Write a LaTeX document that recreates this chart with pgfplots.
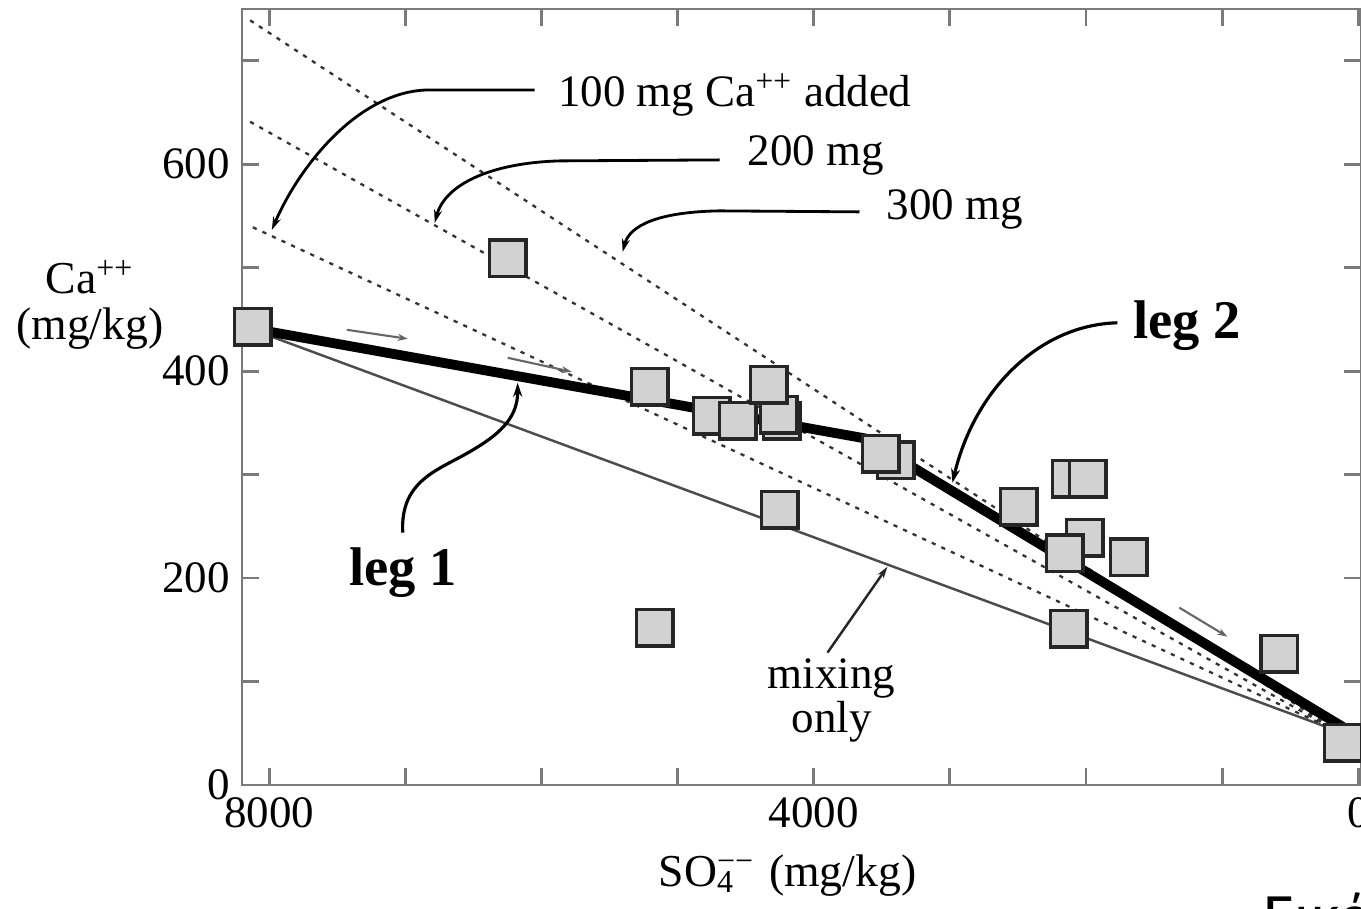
\documentclass[border=0pt]{standalone}
\usepackage{fontspec}
\setmainfont{Liberation Serif}
\newfontfamily\carlito{Carlito}
\usepackage{pgfplots}
\pgfplotsset{compat=1.18}
\usetikzlibrary{arrows.meta}
\definecolor{sqfill}{HTML}{D2D2D2}
\definecolor{axgray}{HTML}{7A7A7A}
\newcommand{\txt}{\fontsize{12.8}{14}\selectfont}
\newcommand{\legtxt}{\fontsize{15.5}{17}\selectfont\bfseries}

\begin{document}
\begin{tikzpicture}
  \begin{axis}[
    scale only axis, width=11.19cm, height=7.76cm,
    x dir=reverse,
    xmin=-20, xmax=8200, ymin=0, ymax=750,
    axis line style={axgray, line width=0.8pt},
    xtick={0,4000,8000}, minor xtick={1000,2000,3000,5000,6000,7000},
    ytick={0,200,400,600}, minor ytick={100,300,500,700},
    tick align=inside,
    major tick length=0.17cm, minor tick length=0.17cm,
    every tick/.style={axgray, line width=0.8pt},
    minor tick style={axgray, line width=0.8pt},
    tick label style={font=\txt},
    /pgf/number format/assume math mode=true,
    /pgf/number format/set thousands separator={},
  ]
    % mixing only
    \addplot[black!70, line width=0.7pt] coordinates {(8120,440) (170,53)};
    % 100, 200, 300 mg Ca++ added
    \addplot[black!80, line width=0.65pt, dash pattern=on 1.2pt off 1.8pt]
      coordinates {(8120,539) (170,53)};
    \addplot[black!80, line width=0.65pt, dash pattern=on 1.2pt off 1.8pt]
      coordinates {(8140,641) (170,53)};
    \addplot[black!80, line width=0.65pt, dash pattern=on 1.2pt off 1.8pt]
      coordinates {(8140,739) (170,53)};
    % leg 1 and leg 2
    \addplot[black, line width=2.8pt] coordinates {(8121,441) (3624,335) (112,56)};
    % samples
    \addplot[only marks, mark=square*, mark size=5.2pt,
      mark options={fill=sqfill, draw=black!85, line width=1pt}]
      coordinates {
        (8121,443) (6247,509) (5204,385) (4748,357) (4558,352)
        (4235,352) (4256,358) (4330,387) (3397,314) (3507,320)
        (4249,266) (5167,152) (2493,269) (2111,296) (1986,296)
        (2008,239) (2155,224) (1685,220) (2125,151) (582,127) (112,41)
      };
  \end{axis}

  % annotations, in pixel units of the reference
  \begin{scope}[x=0.01cm, y=-0.01cm, shift={(-2.42cm,7.85cm)}]
    % axis titles
    \node[align=center, font=\fontsize{13}{13}\selectfont] at (90,305)
      {Ca\textsuperscript{++}\\(mg/kg)};
    \node[font=\fontsize{13}{14}\selectfont] at (788,876)
      {SO\makebox[0pt][l]{\textsuperscript{−−}}\textsubscript{4}\hspace{0.75em}(mg/kg)};
    % direction arrows
    \draw[black!60, line width=0.6pt, -{Stealth[length=0.1cm, width=0.07cm]}]
      (347,330) -- (408,339);
    \draw[black!60, line width=0.6pt, -{Stealth[length=0.1cm, width=0.07cm]}]
      (508,358) -- (572,372);
    \draw[black!60, line width=0.6pt, -{Stealth[length=0.1cm, width=0.07cm]}]
      (1180,608) -- (1228,637);
    % labels with pointers
    \node[anchor=west, font=\txt] at (546,95) {100 mg Ca\textsuperscript{++} added};
    \draw[black, line width=0.8pt, -{Stealth[length=0.13cm, width=0.08cm]}]
      (535,90) -- (430,90) .. controls (360,90) and (300,165) .. (272,230);
    \node[anchor=west, font=\txt] at (736,155) {200 mg};
    \draw[black, line width=0.8pt, -{Stealth[length=0.13cm, width=0.08cm]}]
      (720,160) -- (560,161) .. controls (490,163) and (445,185) .. (435,223);
    \node[anchor=west, font=\txt] at (875,210) {300 mg};
    \draw[black, line width=0.8pt, -{Stealth[length=0.13cm, width=0.08cm]}]
      (860,212) -- (720,211) .. controls (660,212) and (630,225) .. (623,252);
    \node[font=\legtxt] at (403,573) {leg 1};
    \draw[black, line width=0.9pt, -{Stealth[length=0.14cm, width=0.09cm]}]
      (403,533) .. controls (400,480) and (440,470) .. (470,452)
      .. controls (505,432) and (518,415) .. (518,383);
    \node[font=\legtxt] at (1188,326) {leg 2};
    \draw[black, line width=0.9pt, -{Stealth[length=0.14cm, width=0.09cm]}]
      (1118,323) .. controls (1040,325) and (975,390) .. (953,483);
    \node[align=center, font=\fontsize{12.8}{10.8}\selectfont] at (832,701)
      {mixing\\only};
    \draw[black!85, line width=0.7pt, -{Stealth[length=0.12cm, width=0.07cm]}]
      (828,653) -- (888,567);
    % caption fragment cut by the frame
    \node[anchor=base west, font=\carlito\fontsize{18}{20}\selectfont] at (1252,938)
      {Εικόνα};
  \end{scope}

  \pgfresetboundingbox
  \useasboundingbox (-2.42cm,-1.24cm) rectangle (11.19cm,7.85cm);
\end{tikzpicture}
\end{document}
